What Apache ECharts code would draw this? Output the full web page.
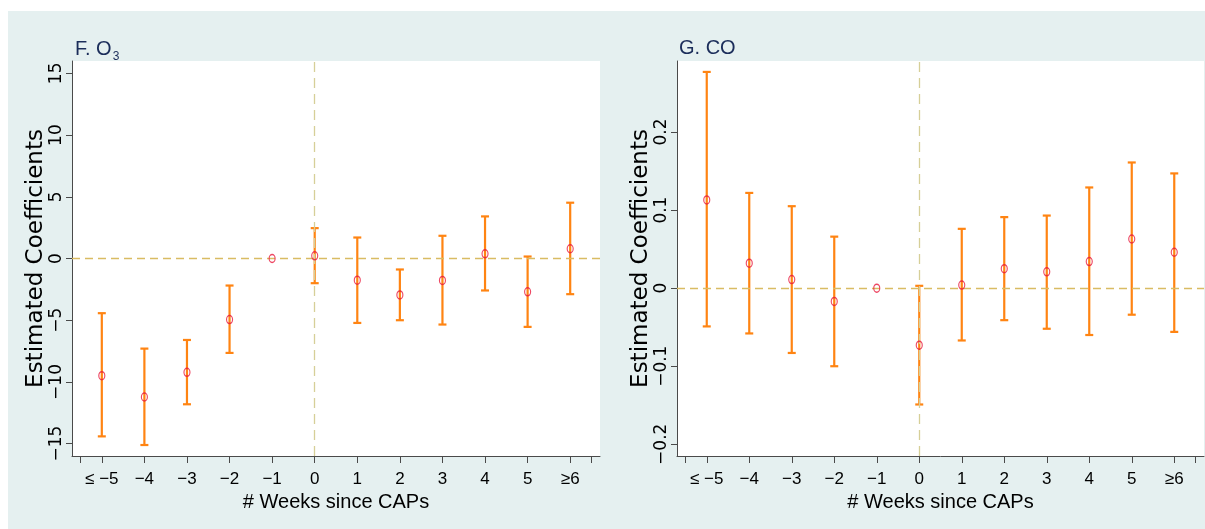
<!DOCTYPE html>
<html>
<head>
<meta charset="utf-8">
<script src="https://cdn.jsdelivr.net/npm/echarts@6/dist/echarts.min.js"></script>
<style>
html,body{margin:0;padding:0;background:#fff;}
#c{width:1205px;height:529px;}
</style>
</head>
<body>
<div id="c"></div>
<script>
// ---- data ----
var weekLabels = ['≤ −5', '−4', '−3', '−2', '−1', '0', '1', '2', '3', '4', '5', '≥6'];
var o3Coef = [-9.49, -11.22, -9.22, -4.95, 0, 0.22, -1.76, -2.95, -1.78, 0.38, -2.70, 0.79];
var o3Lo   = [-14.41, -15.11, -11.81, -7.65, null, -2.00, -5.22, -5.00, -5.35, -2.59, -5.54, -2.89];
var o3Hi   = [-4.43, -7.30, -6.60, -2.19, null, 2.46, 1.70, -0.89, 1.84, 3.41, 0.16, 4.52];
var coCoef = [0.113, 0.032, 0.011, -0.017, 0, -0.073, 0.004, 0.025, 0.021, 0.034, 0.063, 0.046];
var coLo   = [-0.049, -0.058, -0.083, -0.100, null, -0.149, -0.067, -0.041, -0.052, -0.060, -0.034, -0.056];
var coHi   = [0.277, 0.122, 0.105, 0.066, null, 0.003, 0.076, 0.091, 0.093, 0.129, 0.161, 0.147];
var o3Ticks = [-15, -10, -5, 0, 5, 10, 15];
var coTicks = [-0.2, -0.1, 0, 0.1, 0.2];
var xTickVals = [-0.5, 0, 1, 2, 3, 4, 5, 6, 7, 8, 9, 10, 11, 11.5];
var xLabelVals = [0, 1, 2, 3, 4, 5, 6, 7, 8, 9, 10, 11];

var ORANGE = '#ff8412';
var RED = '#e8193c';
var AXIS = '#4a4a4a';
var BG = '#e5f0f0';
var NAVY = '#1b2d5a';

function fmtNum(v) {
  var s = String(Math.round(v * 1000) / 1000);
  return s.replace('-', '\u2212');
}

function errData(lo, hi) {
  var d = [];
  for (var i = 0; i < lo.length; i++) {
    if (lo[i] !== null && hi[i] !== null) d.push([i, lo[i], hi[i]]);
  }
  return d;
}
function ptData(c) {
  return c.map(function (v, i) { return [i, v]; });
}
function errRender(params, api) {
  var x = api.value(0), lo = api.value(1), hi = api.value(2);
  var a = api.coord([x, lo]), b = api.coord([x, hi]);
  var w = 4;
  var st = { stroke: ORANGE, lineWidth: 2.2, fill: null };
  return {
    type: 'group',
    children: [
      { type: 'line', shape: { x1: a[0], y1: a[1], x2: b[0], y2: b[1] }, style: st },
      { type: 'line', shape: { x1: a[0] - w, y1: a[1], x2: a[0] + w, y2: a[1] }, style: st },
      { type: 'line', shape: { x1: b[0] - w, y1: b[1], x2: b[0] + w, y2: b[1] }, style: st }
    ]
  };
}

function xAxisCfg(gi) {
  return {
    type: 'value', gridIndex: gi, min: -0.7, max: 11.7,
    name: '# Weeks since CAPs', nameLocation: 'middle', nameGap: 36,
    nameTextStyle: { fontFamily: 'Liberation Sans', fontSize: 20, color: '#000' },
    splitLine: { show: false },
    axisLine: { show: true, onZero: false, lineStyle: { color: AXIS, width: 1 } },
    axisTick: { show: true, inside: false, length: 7, customValues: xTickVals, lineStyle: { color: AXIS, width: 1 } },
    axisLabel: {
      customValues: xLabelVals, margin: 15,
      fontFamily: 'Liberation Sans', fontSize: 17, color: '#000',
      formatter: function (v) { return weekLabels[Math.round(v)]; }
    }
  };
}
function yAxisCfg(gi, min, max, ticks) {
  return {
    type: 'value', gridIndex: gi, min: min, max: max,
    name: 'Estimated Coefficients', nameLocation: 'middle', nameGap: 21, nameRotate: 90,
    nameTextStyle: { fontFamily: 'DejaVu Sans', fontSize: 23, color: '#000' },
    splitLine: { show: false },
    axisLine: { show: true, onZero: false, lineStyle: { color: AXIS, width: 1 } },
    axisTick: { show: true, inside: false, length: 6, customValues: ticks, lineStyle: { color: AXIS, width: 1 } },
    axisLabel: {
      customValues: ticks, rotate: 90, margin: 7,
      fontFamily: 'DejaVu Sans', fontSize: 17, color: '#000',
      formatter: fmtNum
    }
  };
}
function refLines() {
  return {
    silent: true, symbol: 'none', animation: false,
    label: { show: false },
    data: [
      { yAxis: 0, lineStyle: { color: '#d9bc63', type: [8, 5], width: 1.3 } },
      { xAxis: 5, lineStyle: { color: '#d6cf98', type: [10, 6], width: 1.3 } }
    ]
  };
}

var chart = echarts.init(document.getElementById('c'), null, { renderer: 'canvas' });
chart.setOption({
  animation: false,
  backgroundColor: '#ffffff',
  graphic: [
    { type: 'rect', z: -10, shape: { x: 8, y: 11, width: 1205, height: 529 }, style: { fill: BG } }
  ],
  title: [
    {
      text: '{m|F. O}{s|3}', left: 70, top: 32,
      textStyle: {
        fontWeight: 'normal',
        rich: {
          m: { fontFamily: 'Liberation Sans', fontSize: 20, fontWeight: 'normal', color: NAVY, lineHeight: 22, verticalAlign: 'bottom' },
          s: { fontFamily: 'Liberation Sans', fontSize: 12, fontWeight: 'normal', color: NAVY, lineHeight: 12, verticalAlign: 'bottom', padding: [0, 0, -4, 1] }
        }
      }
    },
    {
      text: 'G. CO', left: 674, top: 32,
      textStyle: { fontFamily: 'Liberation Sans', fontSize: 20, fontWeight: 'normal', color: NAVY, lineHeight: 22 }
    }
  ],
  grid: [
    { left: 72, top: 61, width: 528, height: 395, show: true, backgroundColor: '#fff', borderWidth: 0 },
    { left: 677, top: 61, width: 527, height: 395, show: true, backgroundColor: '#fff', borderWidth: 0 }
  ],
  xAxis: [xAxisCfg(0), xAxisCfg(1)],
  yAxis: [yAxisCfg(0, -16, 16, o3Ticks), yAxisCfg(1, -0.215, 0.291, coTicks)],
  series: [
    {
      type: 'custom', xAxisIndex: 0, yAxisIndex: 0, z: 3,
      renderItem: errRender, data: errData(o3Lo, o3Hi),
      encode: { x: 0, y: [1, 2] }, markLine: refLines()
    },
    {
      type: 'scatter', xAxisIndex: 0, yAxisIndex: 0, z: 5,
      symbol: 'circle', symbolSize: [6, 8], data: ptData(o3Coef),
      itemStyle: { color: 'rgba(255,255,255,0)', borderColor: RED, borderWidth: 1.3 }
    },
    {
      type: 'custom', xAxisIndex: 1, yAxisIndex: 1, z: 3,
      renderItem: errRender, data: errData(coLo, coHi),
      encode: { x: 0, y: [1, 2] }, markLine: refLines()
    },
    {
      type: 'scatter', xAxisIndex: 1, yAxisIndex: 1, z: 5,
      symbol: 'circle', symbolSize: [6, 8], data: ptData(coCoef),
      itemStyle: { color: 'rgba(255,255,255,0)', borderColor: RED, borderWidth: 1.3 }
    }
  ]
});
</script>
</body>
</html>
